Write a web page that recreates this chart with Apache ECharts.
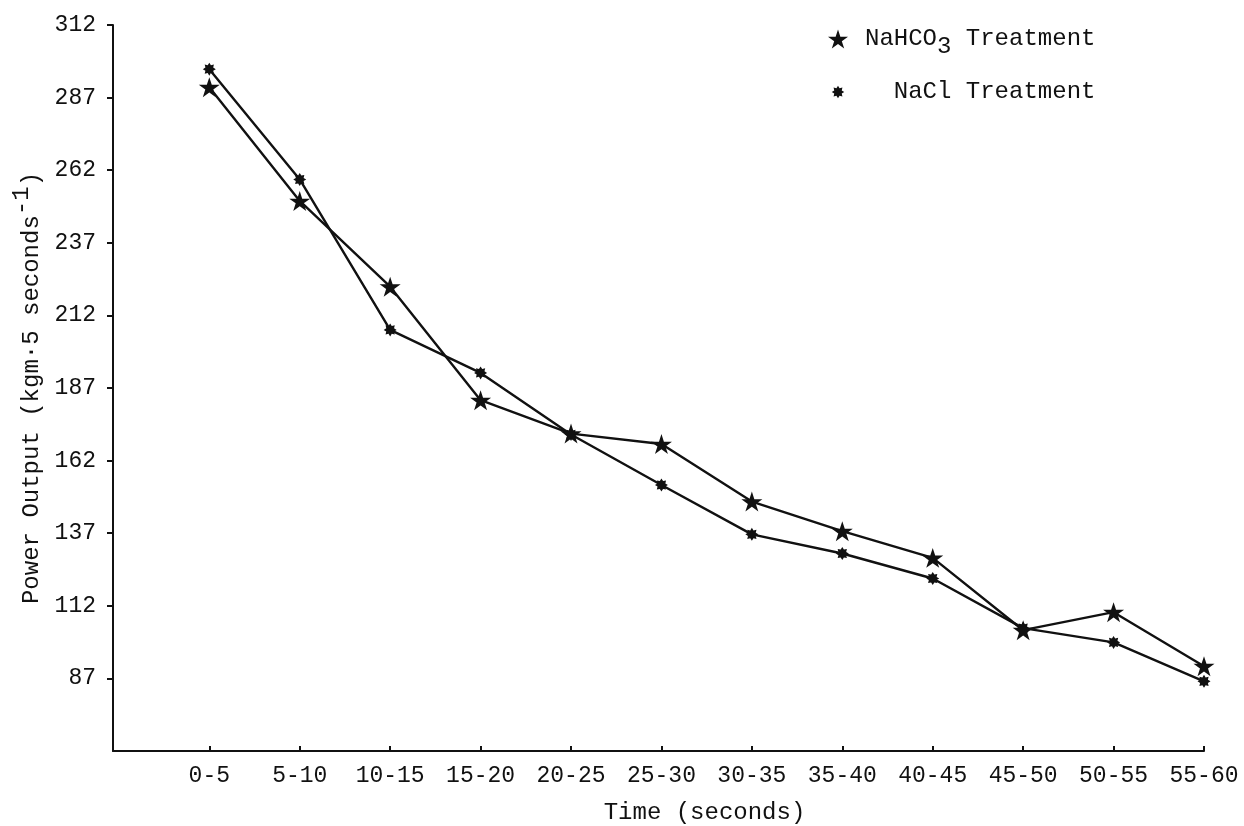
<!DOCTYPE html>
<html>
<head>
<meta charset="utf-8">
<script src="https://cdn.jsdelivr.net/npm/echarts@6/dist/echarts.min.js"></script>
<style>
html,body{margin:0;padding:0;background:#fff;}
#chart{width:1244px;height:826px;}
</style>
</head>
<body>
<div id="chart"></div>
<script>
const categories = ['0-5','5-10','10-15','15-20','20-25','25-30','30-35','35-40','40-45','45-50','50-55','55-60'];
const nahco3 = [290.6, 251.4, 221.9, 182.8, 171.3, 167.7, 147.9, 137.7, 128.5, 103.6, 109.8, 91.2];
const nacl   = [296.8, 258.8, 207.0, 192.2, 171.0, 153.6, 136.6, 130.0, 121.4, 104.3, 99.4, 86.0];
const yTicks = [87, 112, 137, 162, 187, 212, 237, 262, 287, 312];
const seriesNames = ['NaHCO3 Treatment', 'NaCl Treatment'];

const FONT = '"Liberation Mono", "DejaVu Sans Mono", monospace';
const STAR = 'path://M0 -10 L2.245 -3.09 L9.511 -3.09 L3.633 1.18 L5.878 8.09 L0 3.82 L-5.878 8.09 L-3.633 1.18 L-9.511 -3.09 L-2.245 -3.09 Z';
const GEAR_D = 'M10 0 L6.005 2.487 L7.071 7.071 L2.487 6.005 L0 10 L-2.487 6.005 L-7.071 7.071 L-6.005 2.487 L-10 0 L-6.005 -2.487 L-7.071 -7.071 L-2.487 -6.005 L0 -10 L2.487 -6.005 L7.071 -7.071 L6.005 -2.487 Z';
const GEAR = 'path://' + GEAR_D;
const GEAR_LEGEND = 'path://' + GEAR_D + ' M-16 -16 L-16 -15.99 Z M16 16 L16 15.99 Z';

const idx = categories.map((c, i) => i);
const chart = echarts.init(document.getElementById('chart'));
chart.setOption({
  backgroundColor: '#fff',
  animation: false,
  textStyle: { fontFamily: FONT, color: '#111' },
  grid: { left: 113, right: 40, top: 25, bottom: 75, containLabel: false, outerBoundsMode: 'none' },
  legend: {
    orient: 'vertical',
    left: 823,
    top: 22,
    itemWidth: 20,
    itemHeight: 20,
    itemGap: 21,
    data: [
      { name: seriesNames[0], icon: STAR },
      { name: seriesNames[1], icon: GEAR_LEGEND }
    ],
    formatter: function (name) {
      if (name === seriesNames[0]) return '{t|NaHCO}{sub|3}{t| Treatment}';
      return '{t|  NaCl Treatment}';
    },
    textStyle: {
      fontFamily: FONT, fontSize: 24, color: '#111', padding: [0, 0, 0, 12],
      rich: {
        t: { fontFamily: FONT, fontSize: 24, color: '#111' },
        sub: { fontFamily: FONT, fontSize: 24, color: '#111', padding: [16, 0, 0, 0] }
      }
    }
  },
  xAxis: {
    type: 'value',
    min: -1.065,
    max: 11,
    name: 'Time (seconds)',
    nameLocation: 'middle',
    nameGap: 50,
    nameTextStyle: { fontFamily: FONT, fontSize: 24, color: '#111', padding: [0, 0, 0, 92] },
    axisLine: { onZero: false, lineStyle: { color: '#111', width: 2 } },
    axisTick: { show: true, inside: true, length: 5, customValues: idx, lineStyle: { color: '#111', width: 2 } },
    axisLabel: {
      customValues: idx,
      formatter: function (v) { return categories[Math.round(v)] || ''; },
      fontFamily: FONT, fontSize: 23, color: '#111', margin: 13
    },
    splitLine: { show: false }
  },
  yAxis: {
    type: 'value',
    min: 62,
    max: 312,
    name: 'Power Output (kgm·5 seconds{sup|-1})',
    nameLocation: 'middle',
    nameGap: 59,
    nameTextStyle: {
      fontFamily: FONT, fontSize: 24, color: '#111',
      rich: { sup: { fontFamily: FONT, fontSize: 24, color: '#111', padding: [0, 0, 20, 0] } }
    },
    axisLine: { show: true, onZero: false, lineStyle: { color: '#111', width: 2 } },
    axisTick: { show: true, inside: false, length: 6, customValues: yTicks, lineStyle: { color: '#111', width: 2 } },
    axisLabel: { customValues: yTicks, fontFamily: FONT, fontSize: 23, color: '#111', margin: 17 },
    splitLine: { show: false }
  },
  series: [
    {
      name: seriesNames[0],
      type: 'line',
      data: nahco3.map((v, i) => [i, v]),
      symbol: STAR,
      symbolSize: 21,
      symbolKeepAspect: true,
      lineStyle: { color: '#111', width: 2.4 },
      itemStyle: { color: '#111' },
      z: 3
    },
    {
      name: seriesNames[1],
      type: 'line',
      data: nacl.map((v, i) => [i, v]),
      symbol: GEAR,
      symbolSize: 13,
      symbolKeepAspect: true,
      lineStyle: { color: '#111', width: 2.4 },
      itemStyle: { color: '#111' },
      z: 2
    }
  ]
});
</script>
</body>
</html>
